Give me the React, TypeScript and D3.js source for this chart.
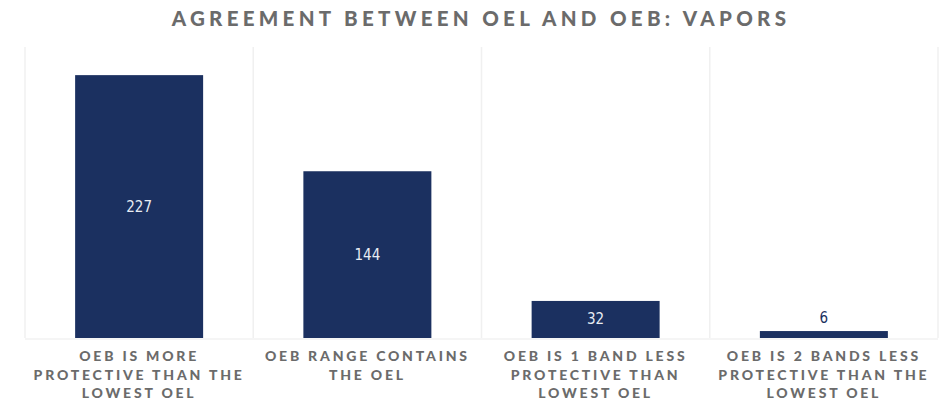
import React from "react";
import * as d3 from "d3";

const categories = [
  ["OEB IS MORE", "PROTECTIVE THAN THE", "LOWEST OEL"],
  ["OEB RANGE CONTAINS", "THE OEL"],
  ["OEB IS 1 BAND LESS", "PROTECTIVE THAN", "LOWEST OEL"],
  ["OEB IS 2 BANDS LESS", "PROTECTIVE THAN THE", "LOWEST OEL"],
];
const values = [227, 144, 32, 6];
const title = "AGREEMENT BETWEEN OEL AND OEB: VAPORS";

const W = 948, H = 403;
const left = 25, right = 938, top = 47, bottom = 338;

export default function App() {
  const idx = values.map((_, i) => i);
  const x = d3.scaleBand<number>().domain(idx).range([left, right]).paddingInner(0).paddingOuter(0);
  const y = d3.scaleLinear().domain([0, 250]).range([bottom, top + 1.5]);
  const bw = 128;
  const fontFam = "Lato, 'Open Sans', sans-serif";
  return (
    <div style={{ position: "absolute", left: 0, top: 0 }}>
      <svg width={W} height={H} style={{ display: "block" }}>
        <rect width={W} height={H} fill="#fff" />
        <text x={481} y={26} textAnchor="middle" fill="#6b6b6b" fontFamily={fontFam} fontWeight={900} fontSize={20.5} letterSpacing={4.3}>{title}</text>
        {idx.map((i) => (
          <line key={"g" + i} x1={x(i)!} x2={x(i)!} y1={top} y2={bottom} stroke="#f0f0f0" strokeWidth={1.5} />
        ))}
        <line x1={right} x2={right} y1={top} y2={bottom} stroke="#f0f0f0" strokeWidth={1.5} />
        <line x1={left} x2={right} y1={bottom + 1} y2={bottom + 1} stroke="#f2f2f2" strokeWidth={1.5} />
        {idx.map((i) => {
          const cx = x(i)! + x.bandwidth() / 2;
          const yt = y(values[i]);
          const h = bottom - yt;
          const inside = h > 20;
          return (
            <g key={"b" + i}>
              <rect x={cx - bw / 2} y={yt} width={bw} height={h} fill="#1b3060" />
              <text x={cx} y={inside ? yt + h / 2 + 5 : yt - 8} textAnchor="middle" fill={inside ? "#e8ecf3" : "#1b3060"} fontFamily="'Liberation Sans Narrow', 'DejaVu Sans Condensed', sans-serif" fontSize={15}>{values[i]}</text>
            </g>
          );
        })}
        {idx.map((i) => {
          const cx = x(i)! + x.bandwidth() / 2;
          return (
            <text key={"c" + i} textAnchor="middle" fill="#6b6b6b" fontFamily={fontFam} fontWeight={900} fontSize={14} letterSpacing={2.8}>
              {categories[i].map((l, j) => (
                <tspan key={j} x={cx} y={361 + j * 18.5}>{l}</tspan>
              ))}
            </text>
          );
        })}
      </svg>
    </div>
  );
}
